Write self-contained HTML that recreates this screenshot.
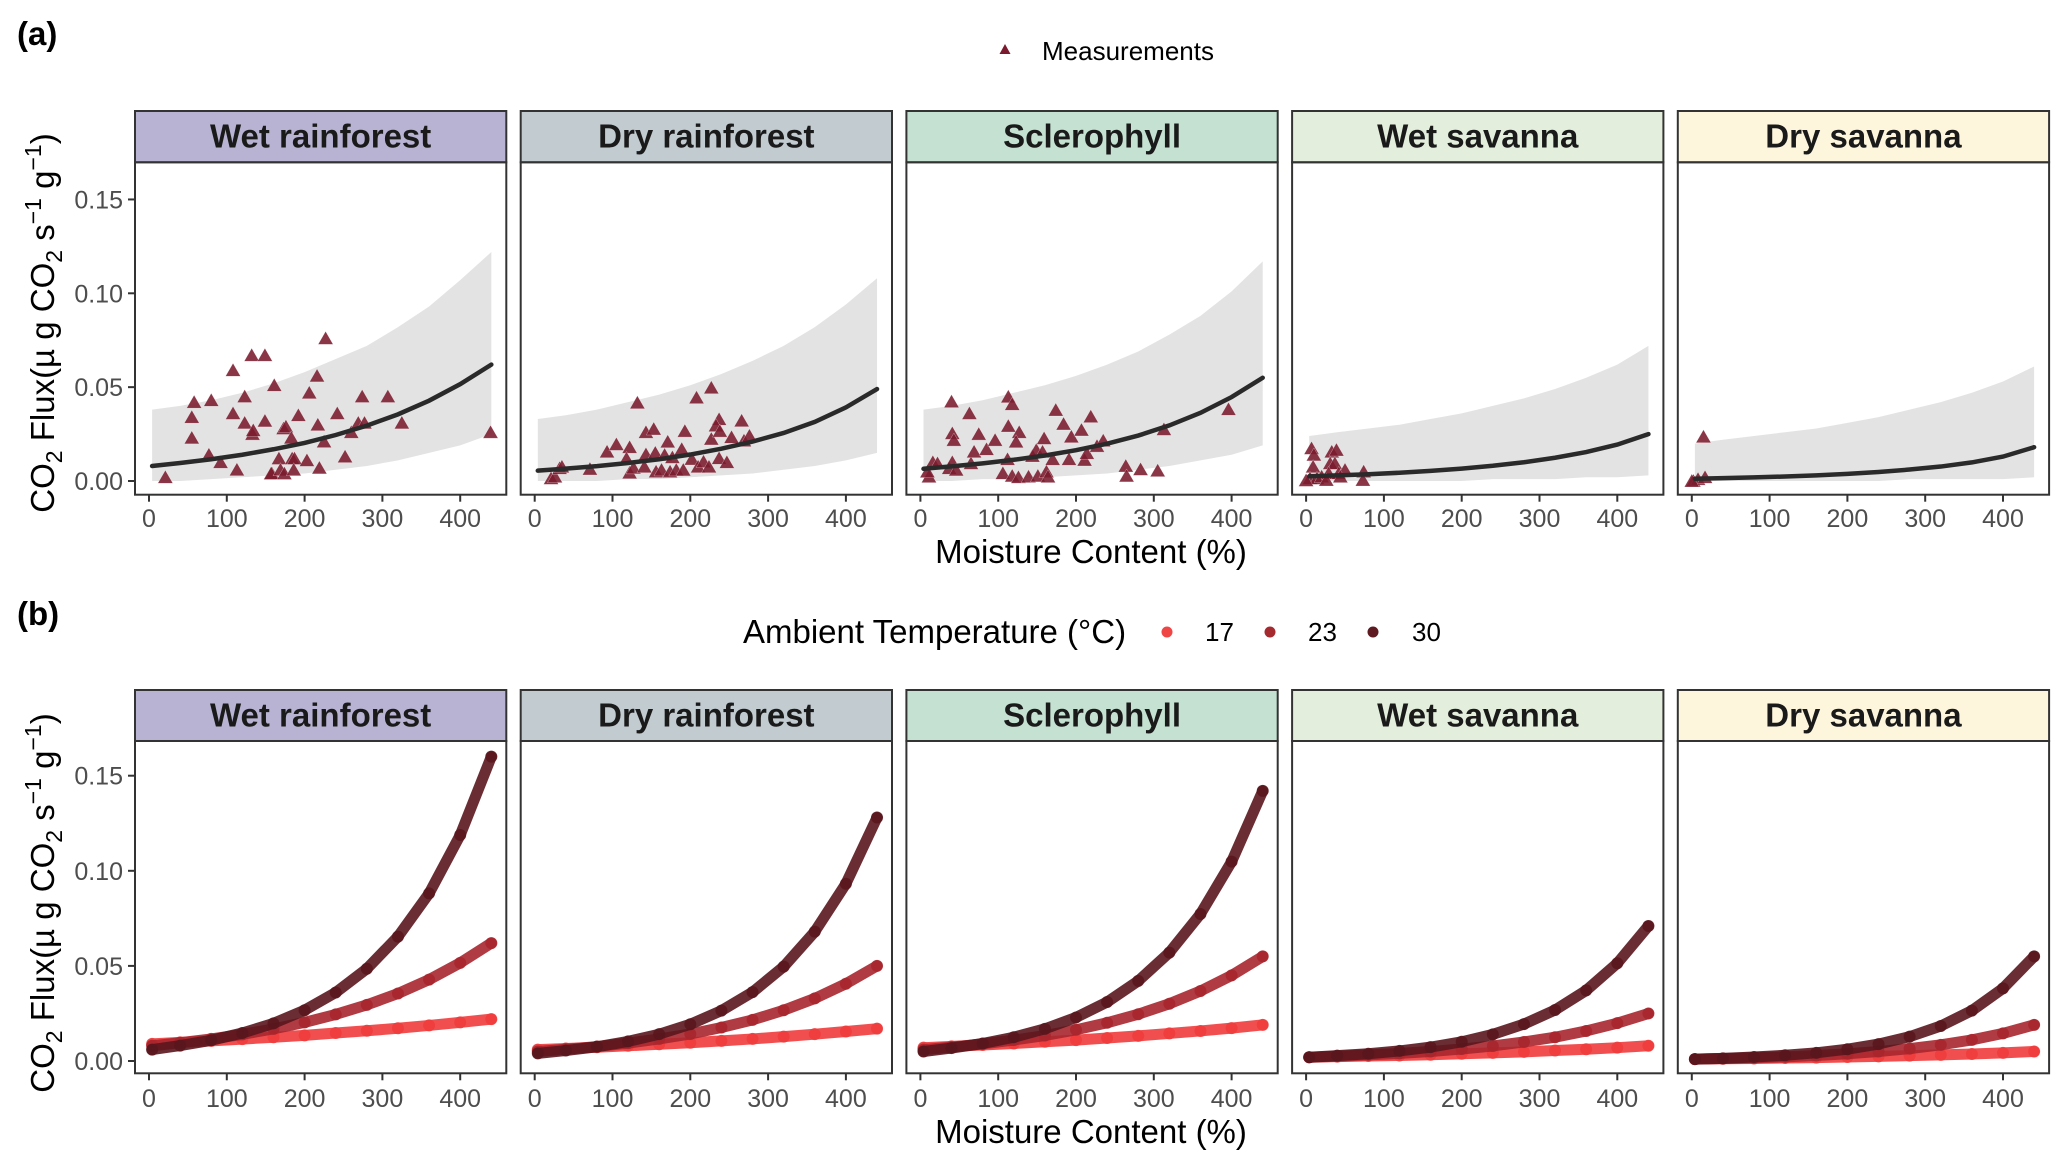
<!DOCTYPE html>
<html><head><meta charset="utf-8"><style>
html,body{margin:0;padding:0;background:#fff;}
svg{display:block;font-family:"Liberation Sans",Arial,sans-serif;}
</style></head><body>
<svg id="chart" width="2067" height="1166" viewBox="0 0 2067 1166" xmlns="http://www.w3.org/2000/svg">
<text x="17" y="45" font-size="33" font-weight="bold" fill="#000">(a)</text>
<text x="17" y="625" font-size="33" font-weight="bold" fill="#000">(b)</text>
<g>
<polygon points="1005,44 1010.5,54 999.5,54" fill="#7b1a2e"/>
<text x="1042" y="60" font-size="26" fill="#000">Measurements</text>
</g>
<g>
<text x="743" y="643" font-size="33" fill="#000">Ambient Temperature (°C)</text>
<circle cx="1167" cy="632" r="5.5" fill="#f04545"/>
<text x="1205" y="641" font-size="26" fill="#000">17</text>
<circle cx="1270" cy="632" r="5.5" fill="#a52a30"/>
<text x="1308" y="641" font-size="26" fill="#000">23</text>
<circle cx="1373" cy="632" r="5.5" fill="#5e1a20"/>
<text x="1412" y="641" font-size="26" fill="#000">30</text>
</g>
<text x="1091" y="563" font-size="33" text-anchor="middle" fill="#000">Moisture Content (%)</text>
<text x="1091" y="1143" font-size="33" text-anchor="middle" fill="#000">Moisture Content (%)</text>
<text transform="translate(54,323) rotate(-90)" font-size="33" text-anchor="middle" fill="#000">CO<tspan font-size="23" dy="8">2</tspan><tspan dy="-8"> Flux(µ g CO</tspan><tspan font-size="23" dy="8">2</tspan><tspan dy="-8"> s</tspan><tspan font-size="23" dy="-13">−1</tspan><tspan dy="13"> g</tspan><tspan font-size="23" dy="-13">−1</tspan><tspan dy="13">)</tspan></text>
<text transform="translate(54,903) rotate(-90)" font-size="33" text-anchor="middle" fill="#000">CO<tspan font-size="23" dy="8">2</tspan><tspan dy="-8"> Flux(µ g CO</tspan><tspan font-size="23" dy="8">2</tspan><tspan dy="-8"> s</tspan><tspan font-size="23" dy="-13">−1</tspan><tspan dy="13"> g</tspan><tspan font-size="23" dy="-13">−1</tspan><tspan dy="13">)</tspan></text>
</svg>
<script>
// ---- data ----
const biomes = ["Wet rainforest","Dry rainforest","Sclerophyll","Wet savanna","Dry savanna"];
const stripColors = ["#b8b3d3","#c1cbd0","#c4e1d1","#e3efdc","#fdf6dc"];
const xGrid = [4,40,80,120,160,200,240,280,320,360,400,440];
const xTicks = [0,100,200,300,400];
const yTicks = [0,0.05,0.10,0.15];
const yTickLabels = ["0.00","0.05","0.10","0.15"];
const temps = ["17","23","30"];
const tempColors = ["#f03c3c","#a8262d","#5a161d"];

const fitWR = [.0080,.0096,.0116,.0140,.0169,.0203,.0245,.0295,.0355,.0428,.0516,.0620];
const fitDR = [.0055,.0066,.0079,.0096,.0116,.0141,.0172,.0210,.0256,.0315,.0392,.0490];
const fitSC = [.0065,.0078,.0094,.0113,.0136,.0164,.0199,.0242,.0296,.0363,.0447,.0550];
const fitWS = [.0025,.0030,.0036,.0044,.0054,.0066,.0081,.0100,.0124,.0154,.0194,.0250];
const fitDS = [.0012,.0015,.0019,.0024,.0030,.0038,.0048,.0061,.0077,.0099,.0130,.0180];
const upWR = [.038,.040,.043,.047,.052,.058,.065,.072,.082,.093,.107,.122];
const loWR = [.000,.000,.001,.002,.003,.004,.006,.008,.011,.015,.019,.025];
const upDR = [.033,.035,.038,.042,.046,.051,.057,.064,.072,.082,.094,.108];
const loDR = [.000,.000,.000,.001,.001,.002,.003,.004,.006,.008,.011,.015];
const upSC = [.038,.040,.043,.047,.051,.056,.062,.069,.078,.088,.101,.117];
const loSC = [.000,.000,.001,.001,.002,.003,.004,.006,.008,.011,.014,.019];
const upWS = [.024,.026,.028,.030,.033,.036,.040,.044,.049,.055,.062,.072];
const loWS = [0,0,0,0,0,0,.001,.001,.001,.002,.002,.003];
const upDS = [.020,.022,.024,.026,.028,.031,.034,.038,.042,.047,.053,.061];
const loDS = [0,0,0,0,0,0,0,.001,.001,.001,.001,.002];

const measWRx = [21,58,55,55,80,77,92,108,108,113,123,123,132,149,133,134,149,161,158,157,167,169,173,174,176,183,184,187,186,192,203,206,216,217,219,225,227,242,252,260,269,274,277,307,325,439];
const measWRy = [.002,.042,.034,.023,.043,.014,.010,.059,.036,.006,.045,.031,.067,.067,.025,.027,.032,.051,.004,.004,.012,.006,.028,.004,.029,.023,.012,.012,.006,.035,.011,.047,.056,.030,.007,.021,.076,.036,.013,.026,.031,.045,.031,.045,.031,.026];
const measDRx = [21,26,32,35,71,93,105,122,118,122,127,132,141,143,143,153,155,156,163,167,171,174,177,182,189,191,193,202,208,210,217,224,227,227,237,233,238,237,247,253,266,269,276];
const measDRy = [.0014,.0023,.0068,.0076,.0064,.0156,.0195,.018,.012,.0044,.007,.0417,.0076,.026,.0142,.0277,.015,.005,.0059,.0139,.0209,.005,.0126,.0059,.017,.0059,.0266,.0117,.0444,.0076,.0103,.0076,.0497,.0224,.0329,.0295,.0266,.0121,.010,.0233,.0321,.0215,.0241];
const measSCx = [11,9,16,22,37,41,46,40,63,41,43,65,69,75,85,96,106,113,118,113,127,123,112,118,126,139,144,149,157,159,151,162,164,170,174,184,191,194,207,211,214,219,227,235,264,265,283,305,313,396];
const measSCy = [.0023,.005,.010,.0094,.0068,.010,.0059,.0423,.036,.0254,.0218,.0094,.0156,.025,.0169,.0218,.0041,.0449,.0409,.0293,.026,.0209,.0116,.0027,.002,.0023,.0133,.0165,.0156,.0227,.0027,.005,.0023,.0116,.0378,.0304,.0116,.0236,.0272,.0112,.0148,.0343,.0186,.0215,.008,.0027,.0062,.0055,.0275,.0382];
const measWSx = [7,10,9,5,14,20,33,39,31,37,29,42,50,44,74,73,26,0];
const measWSy = [.0174,.0139,.0076,.0014,.0014,.0023,.0156,.0165,.0094,.0094,.0041,.0041,.0059,.0023,.005,.0005,.0005,.0003];
const measDSx = [15,2,8,17,0];
const measDSy = [.0236,.000,.001,.002,.000];

const p17WR = [.0090,.0098,.0106,.0115,.0125,.0135,.0147,.0159,.0172,.0187,.0203,.0220];
const p23WR = [.0080,.0096,.0116,.0140,.0169,.0203,.0245,.0295,.0355,.0428,.0516,.0620];
const p30WR = [.0060,.0081,.0109,.0147,.0198,.0267,.0360,.0485,.0654,.0881,.1188,.1600];
const p17DR = [.0060,.0066,.0072,.0080,.0088,.0096,.0106,.0116,.0128,.0141,.0155,.0170];
const p23DR = [.0050,.0062,.0076,.0094,.0116,.0142,.0176,.0216,.0267,.0329,.0406,.0500];
const p30DR = [.0040,.0055,.0075,.0103,.0141,.0193,.0265,.0362,.0496,.0680,.0932,.1280];
const p17SC = [.0070,.0077,.0084,.0092,.0101,.0110,.0121,.0132,.0145,.0158,.0173,.0190];
const p23SC = [.0060,.0073,.0090,.0110,.0134,.0164,.0201,.0246,.0301,.0368,.0450,.0550];
const p30SC = [.0050,.0068,.0092,.0125,.0169,.0229,.0310,.0421,.0570,.0773,.1048,.1420];
const p17WS = [.0020,.0023,.0026,.0029,.0033,.0038,.0043,.0048,.0055,.0062,.0070,.0080];
const p23WS = [.0020,.0025,.0032,.0040,.0050,.0063,.0079,.0100,.0125,.0158,.0199,.0250];
const p30WS = [.0020,.0028,.0038,.0053,.0073,.0101,.0140,.0194,.0268,.0371,.0514,.0710];
const p17DS = [.0010,.0012,.0013,.0016,.0018,.0021,.0024,.0028,.0032,.0037,.0043,.0050];
const p23DS = [.0010,.0013,.0017,.0022,.0029,.0038,.0050,.0065,.0085,.0111,.0145,.0190];
const p30DS = [.0010,.0014,.0021,.0030,.0043,.0062,.0089,.0128,.0184,.0265,.0382,.0550];

const fits = [fitWR,fitDR,fitSC,fitWS,fitDS];
const ups = [upWR,upDR,upSC,upWS,upDS];
const los = [loWR,loDR,loSC,loWS,loDS];
const measX = [measWRx,measDRx,measSCx,measWSx,measDSx];
const measY = [measWRy,measDRy,measSCy,measWSy,measDSy];
const preds = [[p17WR,p23WR,p30WR],[p17DR,p23DR,p30DR],[p17SC,p23SC,p30SC],[p17WS,p23WS,p30WS],[p17DS,p23DS,p30DS]];

// ---- layout ----
const NS = "http://www.w3.org/2000/svg";
const svg = document.getElementById("chart");
const PL = 135, PW = 371.3, PITCH = 385.7;
const rows = [
  {stripTop:111, stripBot:162.3, plotBot:494.7, y0:481, k:1877, tickLab:527},
  {stripTop:690, stripBot:741, plotBot:1073.3, y0:1061, k:1902, tickLab:1107}
];
function mk(tag, attrs, parent){
  const e = document.createElementNS(NS, tag);
  for (const a in attrs) e.setAttribute(a, attrs[a]);
  (parent||svg).appendChild(e);
  return e;
}
function xScale(i, v){ return PL + i*PITCH + 14 + v*0.778; }
function yScale(r, v){ return rows[r].y0 - v*rows[r].k; }

for (let r=0; r<2; r++){
  const R = rows[r];
  for (let i=0; i<5; i++){
    const L = PL + i*PITCH;
    const g = mk("g", {});
    
    
    const st = mk("rect", {x:L, y:R.stripTop, width:PW, height:R.stripBot-R.stripTop, fill:stripColors[i], stroke:"#333", "stroke-width":2}, g);
    
    
    const stt = mk("text", {x:L+PW/2, y:(R.stripTop+R.stripBot)/2+11, "font-size":33, "font-weight":"bold", "text-anchor":"middle", fill:"#1a1a1a"}, g);
    stt.textContent = biomes[i];
    
    

    if (r===0){
      let d = "";
      xGrid.forEach((x,j)=>{ d += (j?"L":"M") + xScale(i,x) + "," + yScale(0, ups[i][j]); });
      for (let j=xGrid.length-1; j>=0; j--) d += "L" + xScale(i,xGrid[j]) + "," + yScale(0, los[i][j]);
      const rib = mk("path", {d:d+"Z", fill:"#e3e3e3"}, g);
      
      
      measX[i].forEach((x,j)=>{
        const cx = xScale(i,x), cy = yScale(0, measY[i][j]);
        const t = mk("polygon", {points:`${cx},${cy-7} ${cx+7.5},${cy+6} ${cx-7.5},${cy+6}`, fill:"#7b1a2e", "fill-opacity":0.88, stroke:"#fff", "stroke-width":0.5, "stroke-opacity":0.5}, g);
        
        
      });
      let fd = "";
      xGrid.forEach((x,j)=>{ fd += (j?"L":"M") + xScale(i,x) + "," + yScale(0, fits[i][j]); });
      const fl = mk("path", {d:fd, fill:"none", stroke:"#2a2a2a", "stroke-width":4.5, "stroke-linecap":"round"}, g);
      
      
    } else {
      preds[i].forEach((ser,s)=>{
        let pd = "";
        xGrid.forEach((x,j)=>{ pd += (j?"L":"M") + xScale(i,x) + "," + yScale(1, ser[j]); });
        const pl = mk("path", {d:pd, fill:"none", stroke:tempColors[s], "stroke-width":11, "stroke-linecap":"round", "stroke-linejoin":"round", "stroke-opacity":0.9}, g);
        
        
        xGrid.forEach((x,j)=>{
          const c = mk("circle", {cx:xScale(i,x), cy:yScale(1, ser[j]), r:6, fill:tempColors[s], "fill-opacity":0.9}, g);
          
          
        });
      });
    }
    const pb = mk("rect", {x:L, y:R.stripBot, width:PW, height:R.plotBot-R.stripBot, fill:"none", stroke:"#333", "stroke-width":2}, g);
    
    
    xTicks.forEach(t=>{
      const x = xScale(i,t);
      const tm = mk("line", {x1:x, x2:x, y1:R.plotBot, y2:R.plotBot+7, stroke:"#333", "stroke-width":2}, g);
      
      
      const tl = mk("text", {x:x, y:R.tickLab, "font-size":25, "text-anchor":"middle", fill:"#4d4d4d"}, g);
      tl.textContent = t;
      
      
    });
    if (i===0){
      yTicks.forEach((t,j)=>{
        const y = yScale(r,t);
        const tm = mk("line", {x1:L-7, x2:L, y1:y, y2:y, stroke:"#333", "stroke-width":2}, g);
        
        
        const tl = mk("text", {x:L-12, y:y+9, "font-size":25, "text-anchor":"end", fill:"#4d4d4d"}, g);
        tl.textContent = yTickLabels[j];
        
        
      });
    }
  }
}
</script>
</body></html>
